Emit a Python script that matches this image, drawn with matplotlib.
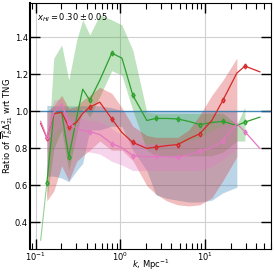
import numpy as np
import matplotlib.pyplot as plt

# wavenumbers, Mpc^-1
k = [0.114, 0.135, 0.163, 0.202, 0.245, 0.304, 0.358, 0.434, 0.569, 0.789,
     1.04, 1.40, 2.05, 2.61, 3.53, 4.76, 6.42, 8.65, 12.0, 16.2, 23.7, 29.5, 44.3]

# green
green = [0.304, 0.614, 0.989, 0.995, 0.755, 0.967, 1.120, 1.060, 1.168, 1.315,
         1.288, 1.087, 0.951, 0.962, 0.962, 0.959, 0.946, 0.929, 0.940, 0.946,
         0.924, 0.942, 0.969]
green_hi = [0.70, 1.288, 1.359, 1.168, 1.386, 1.495, 1.413, 1.522, 1.495,
            1.467, 1.33, 0.995, 0.99, 0.99, 0.99, 0.99, 0.99, 0.99, 0.99,
            0.93, 1.023]
green_lo = [0.52, 0.80, 0.90, 0.68, 0.88, 1.02, 0.97, 1.08, 1.22,
            1.195, 1.005, 0.79, 0.76, 0.76, 0.76, 0.76, 0.76, 0.76, 0.78,
            0.84, 0.84]

# red
red = [0.935, 0.857, 0.987, 0.996, 0.915, 0.942, 0.989, 1.023, 1.05, 0.96,
       0.886, 0.832, 0.80, 0.807, 0.815, 0.821, 0.852, 0.879, 0.951, 1.06,
       1.207, 1.245, 1.214]
red_hi = [1.00, 1.03, 1.087, 1.016, 1.027, 1.06, 1.087, 1.13, 1.098,
          1.02, 0.92, 0.87, 0.86, 0.86, 0.86, 0.90, 0.98, 1.087, 1.168, 1.288]
red_lo = [0.516, 0.57, 0.706, 0.625, 0.73, 0.76, 0.79, 0.84, 0.79,
          0.79, 0.734, 0.598, 0.554, 0.516, 0.495, 0.489, 0.495, 0.533,
          0.625, 0.755]

# pink
pink = [0.946, 0.859, 0.995, 1.038, 0.94, 0.908, 0.897, 0.891, 0.875, 0.826,
        0.804, 0.761, 0.755, 0.757, 0.755, 0.752, 0.766, 0.784, 0.804, 0.842,
        0.933, 0.891, 0.80]
pink_hi = [0.924, 1.06, 1.07, 0.978, 0.967, 0.962, 0.951, 0.946, 0.908,
           0.87, 0.842, 0.826, 0.826, 0.826, 0.826, 0.842, 0.859, 0.897,
           0.924, 0.962]
pink_lo = [0.78, 0.88, 0.92, 0.82, 0.80, 0.79, 0.78, 0.77, 0.73,
           0.71, 0.68, 0.68, 0.68, 0.68, 0.68, 0.68, 0.68, 0.70, 0.74, 0.80]

# TNG reference (blue)
k_tng = k + [60.0]
tng = [1.0] * len(k_tng)
tng_hi = [1.033, 1.03, 1.03, 1.03, 1.03, 1.03, 1.03, 1.03, 1.02,
          1.005, 1.0, 1.0, 1.0, 1.0, 1.0, 1.0, 1.0, 1.0, 1.0, 1.0]
tng_lo = [0.65, 0.65, 0.64, 0.62, 0.68, 0.72, 0.90, 0.90, 0.92,
          0.918, 0.79, 0.68, 0.55, 0.53, 0.52, 0.51, 0.51, 0.52, 0.56, 0.59]

marks = [1, 4, 7, 9, 11, 13, 15, 17, 19, 21]

fig, ax = plt.subplots(figsize=(2.74, 2.72), dpi=100)
fig.subplots_adjust(left=0.109, right=0.989, top=0.989, bottom=0.085)

kk = np.array(k)
ax.fill_between(kk[1:21], tng_lo, tng_hi, color='tab:blue', alpha=0.3, lw=0)
ax.fill_between(kk[1:22], green_lo, green_hi, color='tab:green', alpha=0.3, lw=0)
ax.fill_between(kk[1:21], red_lo, red_hi, color='tab:red', alpha=0.3, lw=0)
ax.fill_between(kk[1:21], pink_lo, pink_hi, color='tab:pink', alpha=0.3, lw=0)

ax.plot(k_tng, tng, color='tab:blue', lw=1, alpha=0.8)
ax.plot(k[:2], green[:2], color='tab:green', lw=0.8, alpha=0.5)
ax.plot(k[1:], green[1:], color='tab:green', lw=0.9, marker='d', ms=2.5,
        markevery=[m - 1 for m in marks], mfc='none')
ax.plot(k, red, color='tab:red', lw=0.9, marker='d', ms=2.5, markevery=marks, mfc='none')
ax.plot(k, pink, color='tab:pink', lw=0.9, marker='d', ms=2.5, markevery=marks, mfc='none')

ax.set_xscale('log')
ax.set_xlim(0.085, 60)
ax.set_ylim(0.257, 1.586)
ax.set_yticks([0.4, 0.6, 0.8, 1.0, 1.2, 1.4])
ax.grid(True, color='#d0d0d0', lw=0.8)
ax.set_axisbelow(True)
ax.tick_params(which='both', direction='in', top=True, right=True, labelsize=6, pad=1.5)
ax.tick_params(which='major', length=7, width=1)
ax.tick_params(which='minor', length=4, width=0.8)
ax.spines['left'].set_linewidth(1.5)

ax.set_xlabel(r'$k$, Mpc$^{-1}$', fontsize=6)
ax.set_ylabel(r'Ratio of $\overline{T}_b^2\Delta^2_{21}$ wrt TNG', fontsize=6)
ax.xaxis.set_label_coords(0.5, -0.035)
ax.yaxis.set_label_coords(-0.06, 0.5)
ax.text(0.03, 0.965, r'$x_{HI}=0.30\pm0.05$', transform=ax.transAxes, fontsize=6, va='top')

fig.savefig('out.png', dpi=100)
